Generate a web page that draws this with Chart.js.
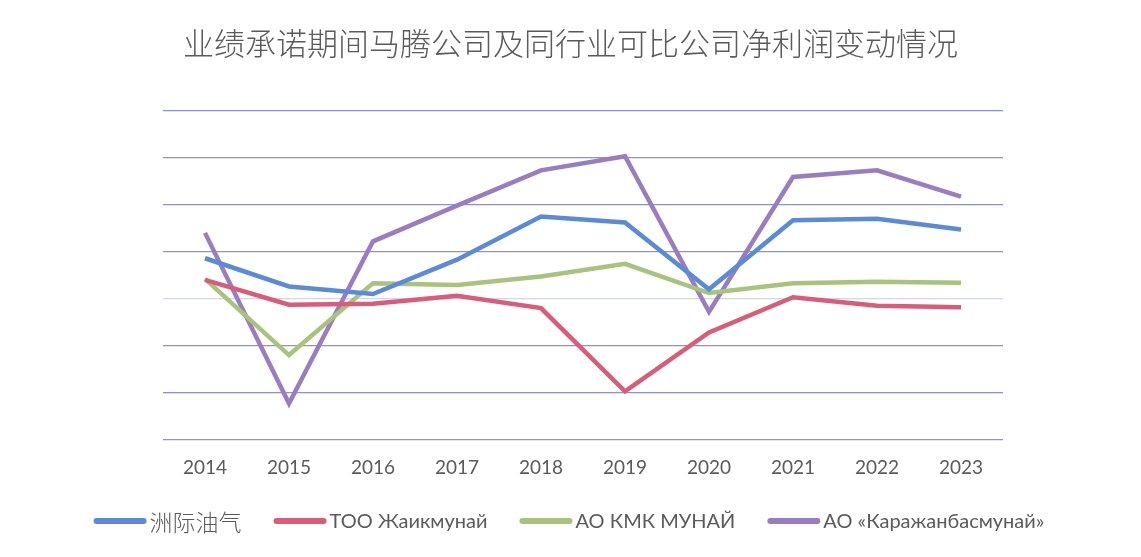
<!DOCTYPE html>
<html>
<head>
<meta charset="utf-8">
<script src="https://cdn.jsdelivr.net/npm/chart.js@4/dist/chart.umd.min.js"></script>
<style>
  html, body { margin: 0; padding: 0; background: #fff; }
  #wrap { width: 1141px; height: 557px; }
</style>
</head>
<body>
<div id="wrap"><canvas id="c"></canvas></div>
<script>
// -------------------------------------------------------
// Data (arbitrary units, 0 = faint axis line)
// -------------------------------------------------------
const years = ['2014','2015','2016','2017','2018','2019','2020','2021','2022','2023'];

const zhoujiOil   = [0.85, 0.25, 0.09, 0.82, 1.74, 1.61, 0.19, 1.66, 1.69, 1.46];
const zhaikmunai  = [0.39, -0.14, -0.12, 0.05, -0.21, -1.98, -0.73, 0.02, -0.16, -0.19];
const kmkMunai    = [0.41, -1.21, 0.32, 0.28, 0.46, 0.73, 0.11, 0.32, 0.35, 0.33];
const karazhanbas = [1.39, -2.24, 1.21, 1.97, 2.72, 3.02, -0.29, 2.58, 2.72, 2.16];

const seriesNames = ['洲际油气', 'ТОО Жаикмунай', 'АО КМК МУНАЙ', 'АО «Каражанбасмунай»'];
const seriesColors = ['#5b8ad8', '#d95c7a', '#a8c47c', '#9a7cc0'];

const FONT = "Lato, 'Noto Sans CJK SC', sans-serif";
const TEXT_COLOR = '#5a5a5a';

function makeSet(i, data) {
  return {
    label: seriesNames[i],
    data: data,
    borderColor: seriesColors[i],
    backgroundColor: seriesColors[i],
    borderWidth: 4.5,
    pointRadius: 0,
    tension: 0,
    fill: false,
  };
}

// -------------------------------------------------------
// Legend drawn by hand: wide line samples, one row, even gaps
// -------------------------------------------------------
const lineLegend = {
  id: 'lineLegend',
  afterDraw(chart) {
    const ctx = chart.ctx;
    const sampleW = 53, sampleH = 6, textGap = 3, itemGap = 32;
    const y = 521;
    const fontFor = (t) => /[\u4e00-\u9fff]/.test(t)
      ? "300 23px 'Noto Sans CJK SC', sans-serif"
      : "20px " + FONT;

    const items = chart.data.datasets.map(ds => {
      ctx.font = fontFor(ds.label);
      return { ds, w: sampleW + textGap + ctx.measureText(ds.label).width };
    });
    const total = items.reduce((s, it) => s + it.w, 0) + itemGap * (items.length - 1);
    const area = chart.chartArea;
    let x = (area.left + area.right) / 2 - total / 2 - 14;

    ctx.save();
    ctx.textBaseline = 'middle';
    ctx.textAlign = 'left';
    items.forEach(it => {
      ctx.strokeStyle = it.ds.borderColor;
      ctx.lineWidth = sampleH;
      ctx.lineCap = 'round';
      ctx.beginPath();
      ctx.moveTo(x + sampleH / 2, y);
      ctx.lineTo(x + sampleW - sampleH / 2, y);
      ctx.stroke();
      ctx.font = fontFor(it.ds.label);
      ctx.fillStyle = TEXT_COLOR;
      ctx.fillText(it.ds.label, x + sampleW + textGap, y + 1);
      x += it.w + itemGap;
    });
    ctx.restore();
  },
};

new Chart(document.getElementById('c'), {
  type: 'line',
  data: {
    labels: years,
    datasets: [
      makeSet(0, zhoujiOil),
      makeSet(1, zhaikmunai),
      makeSet(2, kmkMunai),
      makeSet(3, karazhanbas),
    ],
  },
  plugins: [lineLegend],
  options: {
    responsive: true,
    maintainAspectRatio: false,
    animation: false,
    layout: { padding: { left: 0, right: 0, top: 0, bottom: 69 } },
    plugins: {
      title: {
        display: true,
        text: '业绩承诺期间马腾公司及同行业可比公司净利润变动情况',
        color: TEXT_COLOR,
        font: { family: "'Noto Sans CJK SC', sans-serif", size: 31, weight: 300 },
        padding: { top: 25, bottom: 48 },
      },
      legend: { display: false },
      tooltip: { enabled: false },
    },
    scales: {
      x: {
        offset: true,
        grid: { display: false },
        border: { display: false },
        ticks: { color: TEXT_COLOR, font: { family: FONT, size: 19 }, padding: 9 },
      },
      y: {
        min: -3,
        max: 4,
        ticks: { display: false, stepSize: 1 },
        border: { display: false },
        grid: {
          drawTicks: false,
          lineWidth: 1.3,
          color: (ctx) => ctx.tick && ctx.tick.value === 0 ? '#d4d6f0' : '#8a90da',
        },
        afterFit: (scale) => { scale.width = 163; },
      },
      yRight: {
        position: 'right',
        min: -3,
        max: 4,
        ticks: { display: false },
        grid: { display: false },
        border: { display: false },
        afterFit: (scale) => { scale.width = 138; },
      },
    },
  },
});
</script>
</body>
</html>
